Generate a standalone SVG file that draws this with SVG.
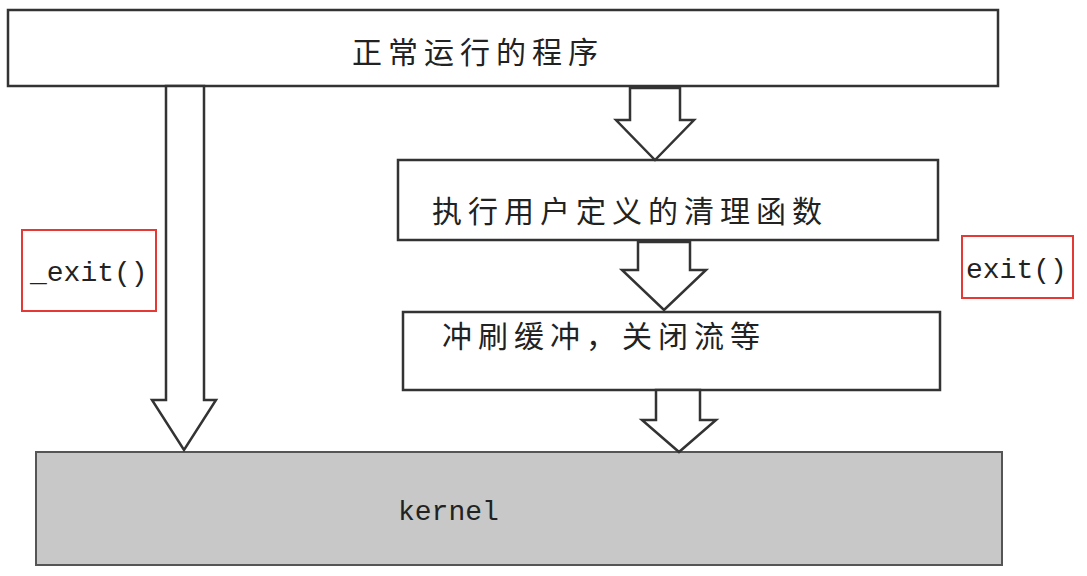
<svg xmlns="http://www.w3.org/2000/svg" width="1087" height="576" viewBox="0 0 1087 576">
<style>
.box{fill:#fff;stroke:#333;stroke-width:2.5}
.arr{fill:#fff;stroke:#333;stroke-width:2.5;stroke-linejoin:miter}
.cn{font-family:"Noto Sans CJK SC",sans-serif;font-size:30px;fill:#222;letter-spacing:6px}
.mono{font-family:"Liberation Mono",monospace;font-size:28px;fill:#222}
.red{fill:#fff;stroke:#e53935;stroke-width:2}
</style>
<rect width="1087" height="576" fill="#fff"/>
<g id="top"><rect class="box" x="8" y="10" width="990" height="76"/><text class="cn" x="352" y="63">正常运行的程序</text></g>
<g id="kernel"><rect x="36" y="452" width="966" height="113" fill="#c8c8c8" stroke="#555" stroke-width="2"/><text class="mono" x="398" y="520">kernel</text></g>
<g id="cleanup"><rect class="box" x="398" y="160" width="540" height="80"/><text class="cn" x="432" y="222">执行用户定义的清理函数</text></g>
<g id="flush"><rect class="box" x="403" y="312" width="537" height="78"/><text class="cn" x="442" y="347">冲刷缓冲，关闭流等</text></g>
<g id="connectors">
<path class="arr" d="M166 86 V400 H152 L184 450 L216 400 H204 V86 Z"/>
<path class="arr" d="M630 88 V120 H616 L655 160 L694 120 H680 V88 Z"/>
<path class="arr" d="M638 242 V270 H622 L664 310 L706 270 H690 V242 Z"/>
<path class="arr" d="M656 390 V420 H642 L679 452 L716 420 H700 V390 Z"/>
</g>
<g id="exit_l"><rect class="red" x="22" y="230" width="134" height="81"/><text class="mono" x="30" y="281">_exit()</text></g>
<g id="exit_r"><rect class="red" x="962" y="236" width="111" height="62"/><text class="mono" x="966" y="278">exit()</text></g>
</svg>
